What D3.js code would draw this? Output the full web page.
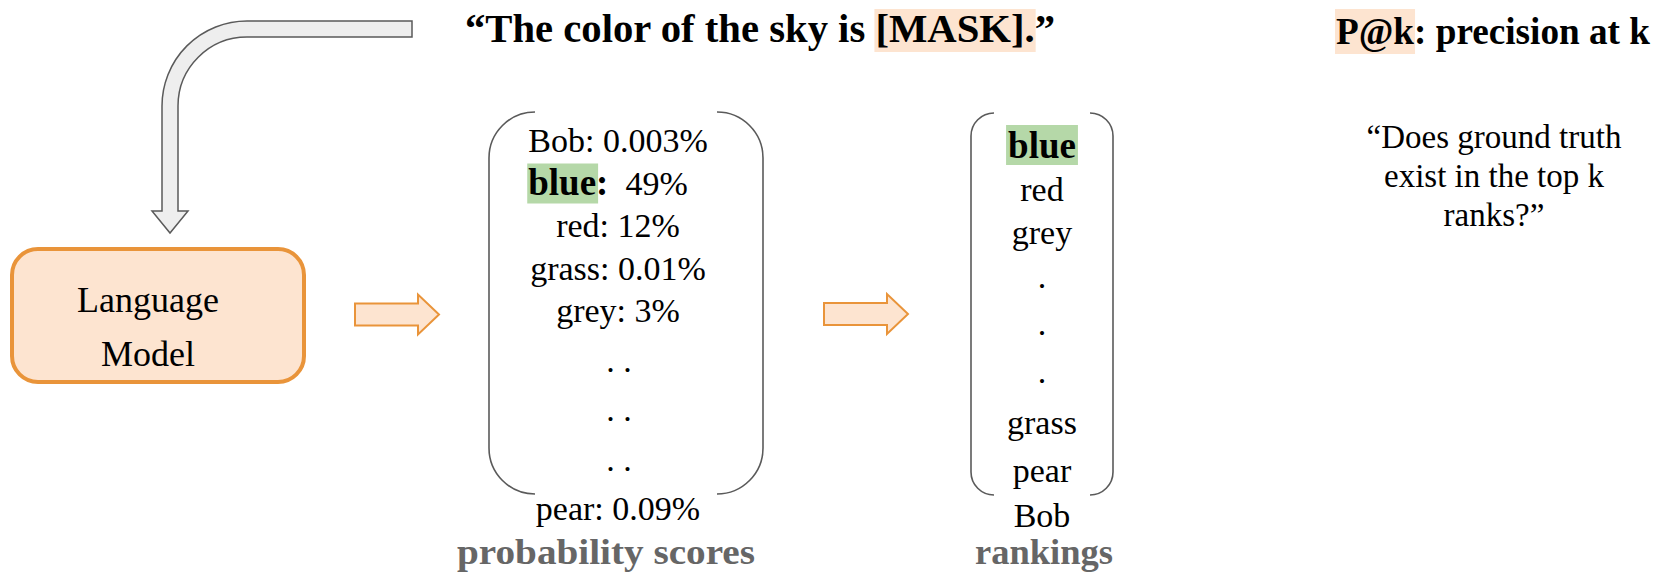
<!DOCTYPE html>
<html>
<head>
<meta charset="utf-8">
<script src="https://cdn.jsdelivr.net/npm/d3@7"></script>
<style>
  body { margin: 0; background: #fff; }
  svg { display: block; }
</style>
</head>
<body>
<script>
var width = 1658,
    height = 574;

// words and their scores from the language model
var probWords = ["Bob", "blue", "red", "grass", "grey"];
var probScores = ["0.003%", "49%", "12%", "0.01%", "3%"];
var gapRows = 3;
var lastWord = "pear";
var lastScore = "0.09%";

// ranked list (top part, bottom part)
var rankTop = ["blue", "red", "grey"];
var rankBottom = ["grass", "pear", "Bob"];
var groundTruth = "blue";

var titleText = "\u201CThe color of the sky is [MASK].\u201D";
var metricText = "P@k: precision at k";
var questionLines = ["\u201CDoes ground truth", "exist in the top k", "ranks?\u201D"];

var orange = "#e9943a",
    peach = "#fde4d0",
    green = "#b5d8a8",
    grey = "#666666",
    serif = "'Liberation Serif', 'Times New Roman', serif";

var svg = d3.select("body").append("svg")
    .attr("width", width)
    .attr("height", height);

// rows of the probability list: 5 words, 3 dot rows, last word
var probRows = probWords.map(function(w, i) { return {word: w, score: probScores[i]}; });
for (var g = 0; g < gapRows; g++) probRows.push({dots: true});
probRows.push({word: lastWord, score: lastScore});

var rankRows = rankTop.map(function(w) { return {word: w}; });
for (var g2 = 0; g2 < gapRows; g2++) rankRows.push({dots: true});
rankBottom.forEach(function(w) { rankRows.push({word: w}); });

var probY = d3.scaleLinear().domain([0, 4, probRows.length - 1]).range([152, 322, 520]);
var rankY = d3.scaleLinear().domain([0, 2, rankRows.length - 2, rankRows.length - 1]).range([158, 244, 482, 527]);

// ---- grey curved arrow from the sentence into the model
svg.append("path")
    .attr("d", "M412,21 H247 A85,85 0 0 0 162,106 V211 H152 L170,233 L188,211 H178 V106 A69,69 0 0 1 247,37 H412 Z")
    .style("fill", "#eeeeee")
    .style("stroke", "#5a5a5a")
    .style("stroke-width", 1.5);

// ---- language model box
svg.append("rect")
    .attr("x", 12).attr("y", 249)
    .attr("width", 292).attr("height", 133)
    .attr("rx", 26)
    .style("fill", peach)
    .style("stroke", orange)
    .style("stroke-width", 4);

svg.selectAll(".lm")
    .data(["Language", "Model"])
    .enter().append("text")
    .attr("class", "lm")
    .attr("x", 148)
    .attr("y", function(d, i) { return 312 + i * 54; })
    .attr("text-anchor", "middle")
    .style("font-family", serif)
    .style("font-size", "36px")
    .text(function(d) { return d; });

// ---- orange block arrows
function blockArrow(x0, xh, xt, cy) {
    return "M" + x0 + "," + (cy - 11) + " H" + xh + " V" + (cy - 20) + " L" + xt + "," + cy +
        " L" + xh + "," + (cy + 20) + " V" + (cy + 11) + " H" + x0 + " Z";
}
svg.selectAll(".barrow")
    .data([[355, 418, 439, 314.5], [824, 887, 908, 314]])
    .enter().append("path")
    .attr("class", "barrow")
    .attr("d", function(d) { return blockArrow(d[0], d[1], d[2], d[3]); })
    .style("fill", peach)
    .style("stroke", orange)
    .style("stroke-width", 2);

// ---- brackets
function brackets(xl, xr, yt, yb, r) {
    return [
        "M" + (xl + r) + "," + yt + " A" + r + "," + r + " 0 0 0 " + xl + "," + (yt + r) +
            " V" + (yb - r) + " A" + r + "," + r + " 0 0 0 " + (xl + r) + "," + yb,
        "M" + (xr - r) + "," + yt + " A" + r + "," + r + " 0 0 1 " + xr + "," + (yt + r) +
            " V" + (yb - r) + " A" + r + "," + r + " 0 0 1 " + (xr - r) + "," + yb
    ];
}
svg.selectAll(".bracket")
    .data(brackets(489, 763, 112, 494, 46).concat(brackets(971, 1113, 113, 495, 23)))
    .enter().append("path")
    .attr("class", "bracket")
    .attr("d", function(d) { return d; })
    .style("fill", "none")
    .style("stroke", "#5a5a5a")
    .style("stroke-width", 1.6);

// ---- title with highlighted mask
var titleG = svg.append("g");
var titleRect = titleG.append("rect").style("fill", peach);
var title = titleG.append("text")
    .attr("x", 465).attr("y", 42)
    .attr("textLength", 590)
    .attr("lengthAdjust", "spacingAndGlyphs")
    .style("font-family", serif)
    .style("font-weight", "bold")
    .style("font-size", "41px")
    .text(titleText);
var mi = titleText.indexOf("[");
var e0 = title.node().getExtentOfChar(mi),
    e1 = title.node().getExtentOfChar(mi + 6);
titleRect.attr("x", e0.x - 1).attr("y", 9)
    .attr("width", e1.x + e1.width - e0.x + 2).attr("height", 43);

// ---- metric title
var metricRect = svg.append("rect").style("fill", peach);
var metric = svg.append("text")
    .attr("x", 1336).attr("y", 44)
    .attr("textLength", 314)
    .attr("lengthAdjust", "spacingAndGlyphs")
    .style("font-family", serif)
    .style("font-weight", "bold")
    .style("font-size", "37px")
    .text(metricText);
var m0 = metric.node().getExtentOfChar(0),
    m1 = metric.node().getExtentOfChar(2);
metricRect.attr("x", m0.x - 1).attr("y", 9)
    .attr("width", m1.x + m1.width - m0.x + 2).attr("height", 45);

svg.selectAll(".question")
    .data(questionLines)
    .enter().append("text")
    .attr("class", "question")
    .attr("x", 1494)
    .attr("y", function(d, i) { return 148 + i * 39; })
    .attr("text-anchor", "middle")
    .style("font-family", serif)
    .style("font-size", "33px")
    .text(function(d) { return d; });

// ---- probability list
var probG = svg.append("g");
probRows.forEach(function(d, i) {
    var y = probY(i);
    if (d.dots) {
        probG.append("text")
            .attr("x", 619).attr("y", y)
            .attr("text-anchor", "middle")
            .style("font-family", serif)
            .style("font-size", "34px")
            .attr("xml:space", "preserve")
            .text(". .");
        return;
    }
    var isTruth = d.word === groundTruth;
    var hl = isTruth ? probG.append("rect").style("fill", green) : null;
    var t = probG.append("text")
        .attr("x", isTruth ? 608 : 618).attr("y", y)
        .attr("text-anchor", "middle")
        .attr("xml:space", "preserve")
        .style("font-family", serif)
        .style("font-size", "34px");
    t.append("tspan")
        .style("font-weight", isTruth ? "bold" : "normal")
        .style("font-size", isTruth ? "37px" : null)
        .text(d.word + ":");
    t.append("tspan").text(isTruth ? "  " + d.score : " " + d.score);
    if (hl) {
        var a = t.node().getExtentOfChar(0),
            b = t.node().getExtentOfChar(d.word.length - 1);
        hl.attr("x", a.x - 1).attr("y", y - 31)
            .attr("width", b.x + b.width - a.x + 3).attr("height", 40);
    }
});

// ---- rankings list
var rankG = svg.append("g");
rankRows.forEach(function(d, i) {
    var y = rankY(i);
    var isTruth = d.word === groundTruth;
    var hl = isTruth ? rankG.append("rect").style("fill", green) : null;
    var t = rankG.append("text")
        .attr("x", 1042).attr("y", d.dots ? y - 4 : y)
        .attr("text-anchor", "middle")
        .style("font-family", serif)
        .style("font-size", isTruth ? "37px" : "34px")
        .style("font-weight", isTruth ? "bold" : "normal")
        .text(d.dots ? "." : d.word);
    if (hl) {
        var bb = t.node().getBBox();
        hl.attr("x", bb.x - 2).attr("y", y - 33)
            .attr("width", bb.width + 4).attr("height", 40);
    }
});

// ---- grey captions
svg.selectAll(".caption")
    .data([["probability scores", 606, 298], ["rankings", 1044, 138]])
    .enter().append("text")
    .attr("class", "caption")
    .attr("x", function(d) { return d[1]; })
    .attr("y", 564)
    .attr("text-anchor", "middle")
    .attr("textLength", function(d) { return d[2]; })
    .attr("lengthAdjust", "spacingAndGlyphs")
    .style("font-family", serif)
    .style("font-weight", "bold")
    .style("font-size", "35px")
    .style("fill", grey)
    .text(function(d) { return d[0]; });
</script>
</body>
</html>
